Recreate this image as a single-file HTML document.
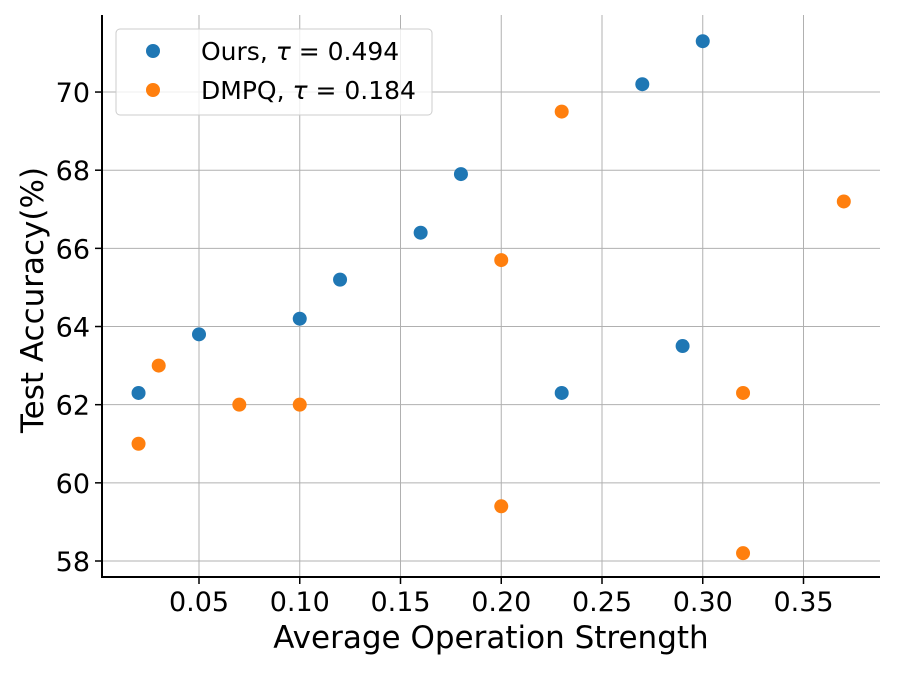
<!DOCTYPE html>
<html><head><meta charset="utf-8"><style>
body{margin:0;background:#fff;font-family:"Liberation Sans","DejaVu Sans",sans-serif}
svg text{font-family:"DejaVu Sans","Liberation Sans",sans-serif;fill:#000}
</style></head><body>
<svg id="chart" width="897" height="673" viewBox="0 0 897 673"></svg>
<script>
const xTicks=[0.05,0.10,0.15,0.20,0.25,0.30,0.35];
const yTicks=[58,60,62,64,66,68,70];
const oursX=[0.02,0.05,0.10,0.12,0.16,0.18,0.23,0.27,0.29,0.30];
const oursY=[62.3,63.8,64.2,65.2,66.4,67.9,62.3,70.2,63.5,71.3];
const dmpqX=[0.02,0.03,0.07,0.10,0.20,0.20,0.23,0.32,0.32,0.37];
const dmpqY=[61.0,63.0,62.0,62.0,65.7,59.4,69.5,62.3,58.2,67.2];
const svg=document.getElementById('chart');
const NS='http://www.w3.org/2000/svg';
function xs(v){return 199+(v-0.05)*2015;}
function ys(v){return 561-(v-58)*39.08;}
function mk(t,a,p){const e=document.createElementNS(NS,t);for(const k in a)e.setAttribute(k,a[k]);(p||svg).appendChild(e);return e;}
xTicks.forEach(v=>{
 const g=mk('line',{x1:xs(v),x2:xs(v),y1:15,y2:577,stroke:'#b0b0b0','stroke-width':1});
 
 
 mk('line',{x1:xs(v),x2:xs(v),y1:577,y2:584,stroke:'#000','stroke-width':1.5});
 const t=mk('text',{x:xs(v),y:611,'text-anchor':'middle','font-size':27});
 t.textContent=v.toFixed(2);
 
 
});
yTicks.forEach(v=>{
 const g=mk('line',{x1:102,x2:880,y1:ys(v),y2:ys(v),stroke:'#b0b0b0','stroke-width':1});
 
 
 mk('line',{x1:95,x2:102,y1:ys(v),y2:ys(v),stroke:'#000','stroke-width':1.5});
 const t=mk('text',{x:90,y:ys(v)+10,'text-anchor':'end','font-size':27});
 t.textContent=v;
 
 
});
const ax=mk('path',{d:'M102 15 V577 H880',fill:'none',stroke:'#000','stroke-width':2});


oursX.forEach((v,i)=>{const c=mk('circle',{cx:xs(v),cy:ys(oursY[i]),r:7,fill:'#1f77b4'});
 
 });
dmpqX.forEach((v,i)=>{const c=mk('circle',{cx:xs(v),cy:ys(dmpqY[i]),r:7,fill:'#ff7f0e'});
 
 });
const xl=mk('text',{x:491,y:648,'text-anchor':'middle','font-size':31});xl.textContent='Average Operation Strength';


const yl=mk('text',{x:0,y:0,'text-anchor':'middle','font-size':31,transform:'translate(43 300) rotate(-90)'});yl.textContent='Test Accuracy(%)';


const lg=mk('g',{});


mk('rect',{x:116,y:29,width:316,height:86,rx:4,fill:'#fff','fill-opacity':0.8,stroke:'#ccc'},lg);
mk('circle',{cx:153,cy:51,r:7,fill:'#1f77b4'},lg);
mk('circle',{cx:153,cy:90,r:7,fill:'#ff7f0e'},lg);
const l1=mk('text',{x:201,y:60,'font-size':25},lg);l1.innerHTML='Ours, <tspan font-style="italic">τ</tspan> = 0.494';


const l2=mk('text',{x:201,y:99,'font-size':25},lg);l2.innerHTML='DMPQ, <tspan font-style="italic">τ</tspan> = 0.184';


</script>
</body></html>
